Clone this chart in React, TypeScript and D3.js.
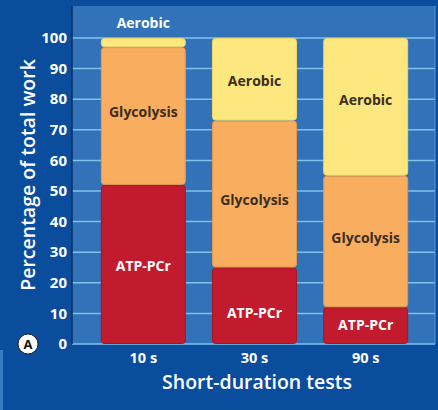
import React from "react";
import * as d3 from "d3";

const categories = ["10 s", "30 s", "90 s"];
const atpPCr = [52, 25, 12];
const glycolysis = [45, 48, 43];
const aerobic = [3, 27, 45];
const yTicks = [0, 10, 20, 30, 40, 50, 60, 70, 80, 90, 100];
const seriesNames = ["ATP-PCr", "Glycolysis", "Aerobic"];

const W = 438, H = 410;
const plotL = 72, plotR = 435, plotT = 6, plotB = 344;
// hand-placed label nudges (px) per series, per bar
const labelNudge: Record<string, number[]> = {
  "ATP-PCr": [2, 7, -1],
  Glycolysis: [-4, 6, -3],
  Aerobic: [0, 2, -7],
};

export default function App() {
  const x = d3.scaleBand<string>().domain(categories).range([88, 421]).paddingInner(0.245).paddingOuter(0.12);
  const y = d3.scaleLinear().domain([0, 100]).range([344, 38]);
  const rows = categories.map((c, i) => ({ cat: c, "ATP-PCr": atpPCr[i], Glycolysis: glycolysis[i], Aerobic: aerobic[i] }));
  const stack = d3.stack<any>().keys(seriesNames)(rows);
  const fills: Record<string, string> = { "ATP-PCr": "#c21b2e", Glycolysis: "#f8ad5f", Aerobic: "#fde77f" };
  const strokes: Record<string, string> = { "ATP-PCr": "#a8141f", Glycolysis: "#e39a4c", Aerobic: "#f0d76a" };
  const textCol: Record<string, string> = { "ATP-PCr": "#ffffff", Glycolysis: "#3b2d22", Aerobic: "#3b2d22" };
  const font = "'Open Sans', 'DejaVu Sans', sans-serif";

  return (
    <svg width={W} height={H} style={{ position: "absolute", left: 0, top: 0 }} fontFamily={font}>
      <rect x={0} y={0} width={W} height={H} fill="#0b4d9d" />
      <rect x={plotL} y={plotT} width={plotR - plotL} height={plotB - plotT} fill="#3172b8" />
      <rect x={0} y={350} width={3} height={60} fill="#3a7cc2" />
      {yTicks.map((t) => (
        <line key={t} x1={plotL} x2={plotR} y1={y(t)} y2={y(t)} stroke="#7fc3ec" strokeWidth={1.5} />
      ))}
      <line x1={plotL} x2={plotL} y1={plotT} y2={plotB} stroke="#0a2e5c" strokeWidth={1.5} />
      <line x1={plotR} x2={plotR} y1={plotT} y2={plotB} stroke="#5d9bd6" strokeWidth={1} />
      {stack.map((s) =>
        s.map((d, i) => {
          const x0 = x(categories[i])!;
          const bw = x.bandwidth();
          const top = y(d[1]);
          const bot = y(d[0]);
          return (
            <rect key={s.key + i} x={x0} y={top + 0.5} width={bw} height={Math.max(0, bot - top - 1)} rx={3}
              fill={fills[s.key]} stroke={strokes[s.key]} strokeWidth={1} />
          );
        })
      )}
      {stack.map((s) =>
        s.map((d, i) => {
          const cx = x(categories[i])! + x.bandwidth() / 2;
          const small = d[1] - d[0] < 8;
          const cy = small ? 23 : (y(d[0]) + y(d[1])) / 2 + labelNudge[s.key][i];
          return (
            <text key={"t" + s.key + i} x={cx} y={cy} dy="0.35em" textAnchor="middle" fontSize={14} fontWeight={700}
              fill={small ? "#ffffff" : textCol[s.key]}>{s.key}</text>
          );
        })
      )}
      {yTicks.map((t) => (
        <text key={"y" + t} x={67} y={y(t)} dy="0.35em" textAnchor="end" fontSize={15} fontWeight={700} fill="#ffffff">{t}</text>
      ))}
      {categories.map((c) => (
        <text key={c} x={x(c)! + x.bandwidth() / 2} y={363} textAnchor="middle" fontSize={14.5} fontWeight={700} fill="#ffffff">{c}</text>
      ))}
      <text x={257} y={389} textAnchor="middle" fontSize={19.5} fontWeight={600} fill="#ffffff">Short-duration tests</text>
      <text transform={`translate(35,175) rotate(-90)`} textAnchor="middle" fontSize={19.5} fontWeight={600} fill="#ffffff">Percentage of total work</text>
      <circle cx={28} cy={344} r={10} fill="#ffffff" stroke="#222" strokeWidth={1} />
      <text x={28} y={344} dy="0.36em" textAnchor="middle" fontSize={13} fontWeight={700} fill="#111">A</text>
    </svg>
  );
}
